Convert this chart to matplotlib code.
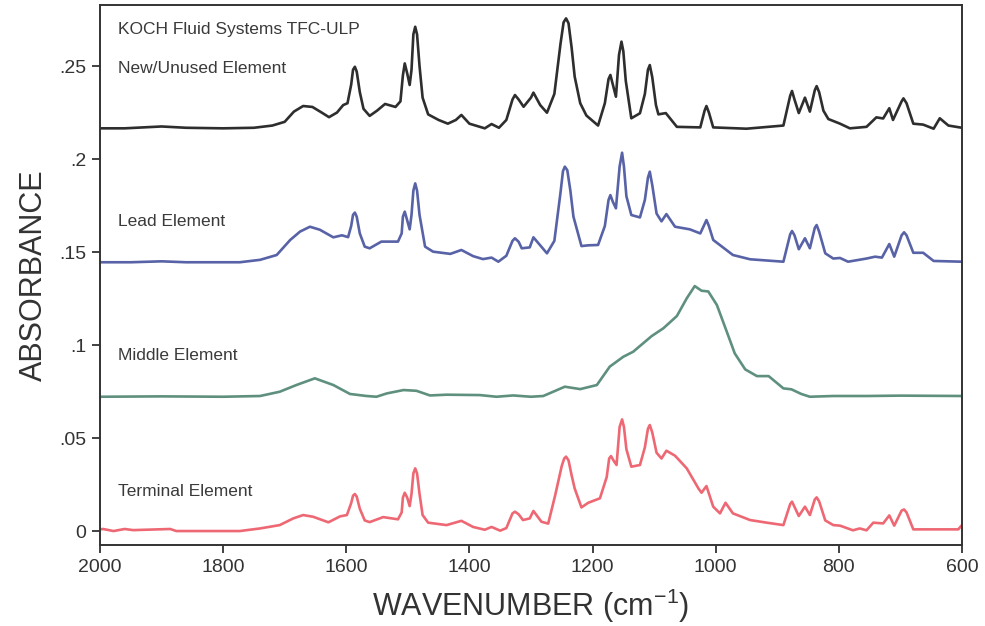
import matplotlib
matplotlib.use('Agg')
import matplotlib.pyplot as plt

plt.rcParams['font.family'] = ['Liberation Sans', 'DejaVu Sans']
plt.rcParams['mathtext.fontset'] = 'custom'
plt.rcParams['mathtext.rm'] = 'Liberation Sans'

# IR spectra: (wavenumber, absorbance)
new_wn = [2000, 1960, 1900, 1860, 1800, 1750, 1720, 1700, 1685, 1670, 1655, 1640, 1628, 1615,
          1605, 1598, 1592, 1589, 1586, 1583, 1578, 1572, 1562, 1550, 1537, 1520, 1512, 1508,
          1505, 1501, 1497, 1494, 1491, 1488, 1485, 1481, 1476, 1467, 1450, 1435, 1422, 1413,
          1400, 1390, 1375, 1364, 1352, 1340, 1330, 1326, 1320, 1312, 1300, 1296, 1285, 1274,
          1262, 1252, 1247, 1243, 1239, 1234, 1229, 1220, 1210, 1191, 1180, 1174, 1171, 1167,
          1162, 1157, 1153, 1150, 1146, 1137, 1123, 1115, 1110, 1107, 1103, 1097, 1093, 1081,
          1063, 1025, 1018, 1015, 1011, 1004, 950, 890, 879, 876, 872, 865, 855, 847, 839, 836,
          832, 825, 817, 798, 782, 755, 739, 728, 718, 712, 698, 695, 690, 679, 663, 646, 636,
          622, 600]
new_abs = [0.2165, 0.2165, 0.2175, 0.2168, 0.2165, 0.2168, 0.2180, 0.2200, 0.2255, 0.2285,
           0.2280, 0.2250, 0.2225, 0.2250, 0.2290, 0.2300, 0.2400, 0.2480, 0.2496, 0.2470,
           0.2360, 0.2270, 0.2232, 0.2260, 0.2296, 0.2280, 0.2310, 0.2450, 0.2514, 0.2460,
           0.2398, 0.2480, 0.2670, 0.2711, 0.2670, 0.2500, 0.2330, 0.2240, 0.2210, 0.2190,
           0.2210, 0.2237, 0.2190, 0.2180, 0.2165, 0.2188, 0.2168, 0.2210, 0.2320, 0.2344,
           0.2320, 0.2281, 0.2330, 0.2357, 0.2290, 0.2249, 0.2350, 0.2620, 0.2735, 0.2756,
           0.2730, 0.2600, 0.2443, 0.2300, 0.2234, 0.2180, 0.2300, 0.2430, 0.2452, 0.2400,
           0.2335, 0.2560, 0.2631, 0.2580, 0.2420, 0.2219, 0.2246, 0.2350, 0.2480, 0.2505,
           0.2440, 0.2290, 0.2240, 0.2247, 0.2173, 0.2170, 0.2260, 0.2285, 0.2250, 0.2170,
           0.2163, 0.2180, 0.2340, 0.2366, 0.2320, 0.2247, 0.2330, 0.2255, 0.2370, 0.2392,
           0.2360, 0.2260, 0.2215, 0.2190, 0.2165, 0.2173, 0.2224, 0.2218, 0.2273, 0.2210,
           0.2310, 0.2326, 0.2300, 0.2190, 0.2185, 0.2163, 0.2219, 0.2180, 0.2168]

lead_wn = [2000, 1950, 1900, 1860, 1773, 1740, 1713, 1691, 1675, 1659, 1643, 1621, 1607, 1597,
           1592, 1589, 1586, 1583, 1578, 1570, 1562, 1543, 1516, 1510, 1508, 1505, 1501, 1497,
           1494, 1491, 1488, 1485, 1481, 1472, 1459, 1431, 1413, 1394, 1378, 1364, 1353, 1340,
           1330, 1326, 1320, 1315, 1302, 1296, 1274, 1262, 1252, 1248, 1245, 1241, 1236, 1231,
           1218, 1207, 1191, 1180, 1174, 1171, 1167, 1162, 1156, 1152, 1149, 1145, 1137, 1123,
           1115, 1110, 1107, 1103, 1096, 1088, 1080, 1066, 1042, 1025, 1018, 1015, 1011, 1004,
           972, 944, 890, 879, 876, 872, 865, 855, 847, 839, 836, 832, 822, 809, 798, 785, 755,
           741, 730, 718, 710, 698, 694, 690, 679, 663, 646, 600]
lead_abs = [0.1445, 0.1445, 0.1450, 0.1445, 0.1445, 0.1458, 0.1484, 0.1565, 0.1610, 0.1636,
            0.1620, 0.1579, 0.1590, 0.1580, 0.1640, 0.1700, 0.1712, 0.1690, 0.1600, 0.1529,
            0.1520, 0.1556, 0.1556, 0.1600, 0.1690, 0.1717, 0.1670, 0.1622, 0.1700, 0.1830,
            0.1869, 0.1830, 0.1700, 0.1529, 0.1502, 0.1490, 0.1511, 0.1478, 0.1462, 0.1470,
            0.1448, 0.1480, 0.1560, 0.1574, 0.1555, 0.1520, 0.1525, 0.1579, 0.1493, 0.1560,
            0.1820, 0.1935, 0.1959, 0.1940, 0.1830, 0.1690, 0.1532, 0.1536, 0.1538, 0.1640,
            0.1780, 0.1806, 0.1770, 0.1735, 0.1960, 0.2034, 0.1960, 0.1800, 0.1699, 0.1686,
            0.1780, 0.1900, 0.1932, 0.1860, 0.1707, 0.1665, 0.1704, 0.1636, 0.1622, 0.1600,
            0.1650, 0.1672, 0.1640, 0.1565, 0.1484, 0.1461, 0.1448, 0.1595, 0.1613, 0.1590,
            0.1515, 0.1574, 0.1520, 0.1630, 0.1645, 0.1610, 0.1493, 0.1465, 0.1468, 0.1448,
            0.1465, 0.1475, 0.1470, 0.1543, 0.1475, 0.1590, 0.1606, 0.1590, 0.1496, 0.1496,
            0.1452, 0.1448]

mid_wn = [2000, 1900, 1800, 1740, 1708, 1681, 1651, 1621, 1594, 1567, 1551, 1534, 1507, 1486,
          1464, 1437, 1383, 1356, 1329, 1300, 1280, 1245, 1220, 1193, 1172, 1150, 1134, 1104,
          1085, 1063, 1047, 1034, 1023, 1012, 998, 982, 969, 952, 933, 914, 890, 877, 861,
          847, 809, 755, 700, 600]
mid_abs = [0.0722, 0.0724, 0.0722, 0.0726, 0.0749, 0.0785, 0.0821, 0.0785, 0.0737, 0.0726,
           0.0722, 0.0740, 0.0758, 0.0754, 0.0729, 0.0733, 0.0731, 0.0722, 0.0729, 0.0722,
           0.0726, 0.0776, 0.0763, 0.0785, 0.0884, 0.0937, 0.0964, 0.1048, 0.1090, 0.1156,
           0.1251, 0.1317, 0.1292, 0.1288, 0.1215, 0.1072, 0.0955, 0.0869, 0.0833, 0.0833,
           0.0767, 0.0762, 0.0737, 0.0722, 0.0726, 0.0726, 0.0728, 0.0726]

term_wn = [2000, 1995, 1978, 1960, 1946, 1886, 1876, 1773, 1740, 1708, 1686, 1670, 1654, 1629,
           1610, 1599, 1592, 1589, 1586, 1583, 1578, 1570, 1562, 1540, 1516, 1510, 1508, 1505,
           1501, 1497, 1494, 1491, 1488, 1485, 1481, 1476, 1467, 1437, 1413, 1394, 1375, 1364,
           1350, 1340, 1330, 1326, 1320, 1313, 1302, 1296, 1283, 1272, 1261, 1250, 1246, 1243,
           1239, 1234, 1229, 1218, 1207, 1188, 1177, 1173, 1170, 1166, 1161, 1156, 1152, 1149,
           1145, 1137, 1123, 1115, 1110, 1107, 1103, 1096, 1088, 1080, 1066, 1047, 1028, 1023,
           1015, 1004, 993, 984, 972, 944, 917, 890, 879, 876, 872, 865, 855, 847, 839, 836,
           832, 822, 809, 798, 777, 766, 755, 744, 728, 718, 710, 698, 694, 690, 679, 606, 600]
term_abs = [0.0009, 0.0011, 0.0000, 0.0011, 0.0005, 0.0011, 0.0000, 0.0000, 0.0014, 0.0032,
            0.0068, 0.0086, 0.0077, 0.0047, 0.0079, 0.0086, 0.0150, 0.0190, 0.0199, 0.0185,
            0.0120, 0.0057, 0.0048, 0.0075, 0.0063, 0.0100, 0.0180, 0.0206, 0.0180, 0.0134,
            0.0200, 0.0310, 0.0337, 0.0310, 0.0200, 0.0086, 0.0045, 0.0032, 0.0055, 0.0022,
            0.0007, 0.0022, 0.0002, 0.0016, 0.0095, 0.0104, 0.0090, 0.0059, 0.0068, 0.0108,
            0.0050, 0.0040, 0.0188, 0.0350, 0.0390, 0.0400, 0.0380, 0.0300, 0.0229, 0.0127,
            0.0152, 0.0176, 0.0290, 0.0390, 0.0403, 0.0380, 0.0355, 0.0560, 0.0600, 0.0560,
            0.0440, 0.0346, 0.0355, 0.0450, 0.0550, 0.0570, 0.0530, 0.0421, 0.0390, 0.0432,
            0.0405, 0.0337, 0.0229, 0.0206, 0.0242, 0.0131, 0.0095, 0.0152, 0.0095, 0.0059,
            0.0045, 0.0032, 0.0145, 0.0158, 0.0130, 0.0081, 0.0131, 0.0086, 0.0170, 0.0181,
            0.0160, 0.0057, 0.0032, 0.0029, 0.0004, 0.0014, 0.0004, 0.0045, 0.0041, 0.0084,
            0.0029, 0.0110, 0.0116, 0.0100, 0.0009, 0.0009, 0.0032]

names = ['New/Unused Element', 'Lead Element', 'Middle Element', 'Terminal Element']
colors = ['#2e2e2e', '#5862a6', '#5f907e', '#ee6874']
label_y = [0.2485, 0.1665, 0.0945, 0.0215]

fig = plt.figure(figsize=(9.85, 6.26), dpi=100)
ax = fig.add_axes([0.1015, 0.1294, 0.8751, 0.8626])

series = [(new_wn, new_abs), (lead_wn, lead_abs), (mid_wn, mid_abs), (term_wn, term_abs)]
for (wn, ab), c in zip(series, colors):
    ax.plot(wn, ab, color=c, lw=1.9, solid_joinstyle='round')

for name, y in zip(names, label_y):
    ax.text(1970, y, name, fontsize=12.5, color='#3a3a3a', va='center', ha='left')
ax.text(1970, 0.2695, 'KOCH Fluid Systems TFC-ULP', fontsize=12.5, color='#3a3a3a',
        va='center', ha='left')

ax.set_xlim(2000, 600)
ax.set_ylim(-0.0075, 0.2828)
ax.set_xticks([2000, 1800, 1600, 1400, 1200, 1000, 800, 600])
ax.set_yticks([0, 0.05, 0.1, 0.15, 0.2, 0.25])
ax.set_yticklabels(['0', '.05', '.1', '.15', '.2', '.25'])
ax.tick_params(direction='out', length=6, width=1.3, labelsize=14, colors='#333333', pad=4)
for s in ax.spines.values():
    s.set_linewidth(1.4)
    s.set_color('#333333')

ax.set_xlabel('WAVENUMBER (cm$^{-1}$)', fontsize=22, color='#333333', labelpad=8)
ax.set_ylabel('ABSORBANCE', fontsize=22, color='#333333', labelpad=7)

fig.savefig('out.png', dpi=100)
